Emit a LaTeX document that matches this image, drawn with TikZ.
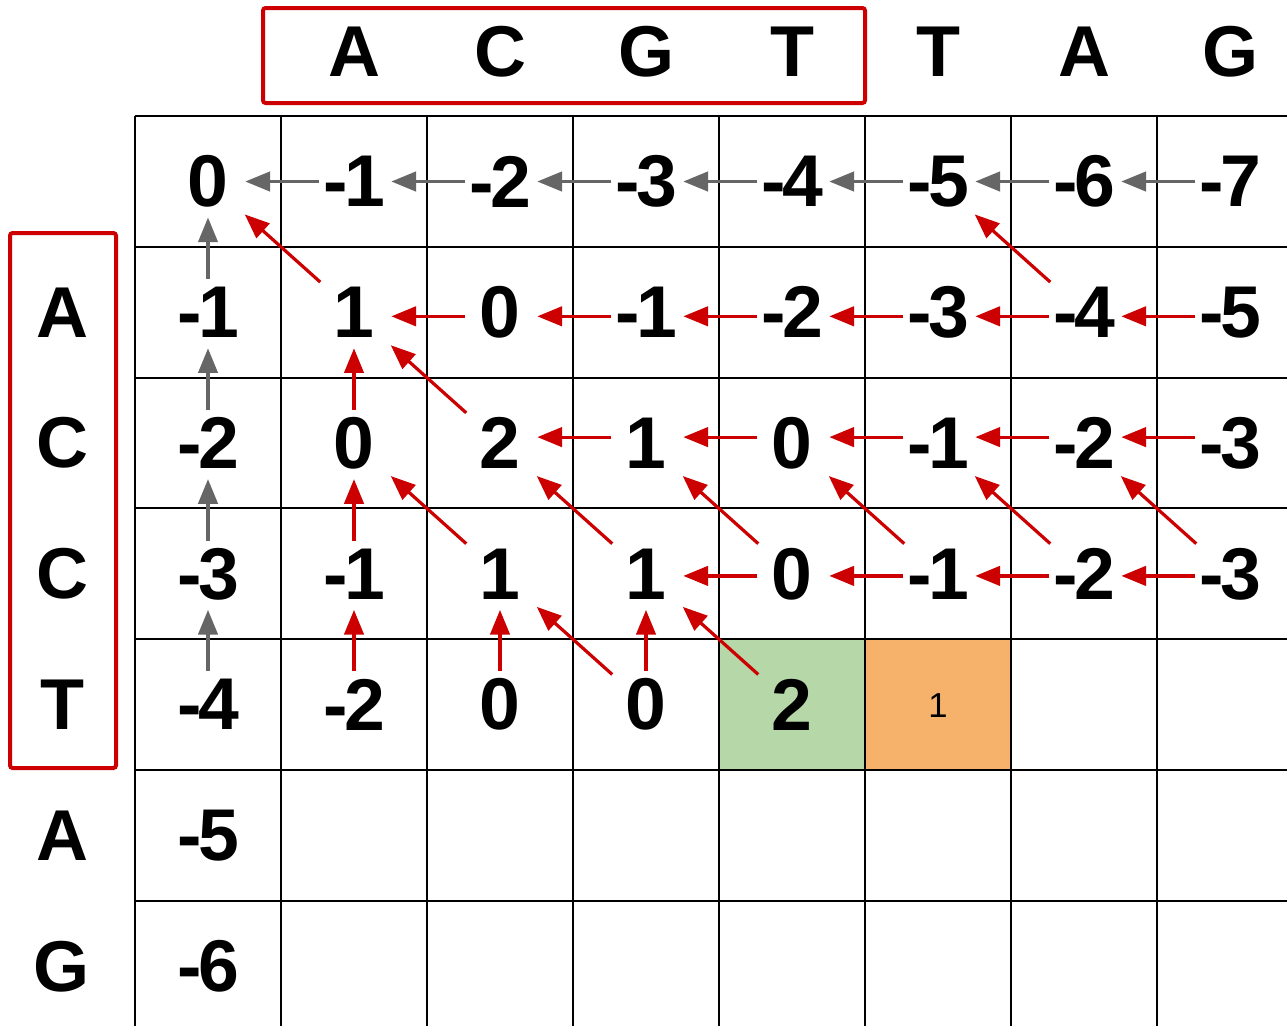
\documentclass[tikz,border=0pt]{standalone}
\usepackage{fontspec}
\setmainfont{Liberation Sans}
\usetikzlibrary{arrows.meta,calc}
\definecolor{rd}{HTML}{CC0000}
\definecolor{gy}{HTML}{666666}
\definecolor{gr}{HTML}{B6D7A8}
\definecolor{og}{HTML}{F6B26B}
\newcommand\negm{-\kern-2.5pt}
\newcommand\cellv[3]{\node[num] (n#1#2) at ({208+146*#2},{181.5+130.8*#1}) {#3};}
\newcommand\myarr[3]{\draw[#1] (n#2.center) -- (n#3.center);}
\newcommand\myarrs[4]{\draw[#1] ($(n#2.center)+(0,#4)$) -- ($(n#3.center)+(0,#4)$);}
\begin{document}
\begin{tikzpicture}[x=0.75pt,y=-0.75pt,
  num/.style={font=\fontsize{55}{60}\selectfont\bfseries, inner sep=0pt},
  ltr/.style={font=\fontsize{54}{60}\selectfont\bfseries, inner sep=0pt},
  arr/.style={line width=2.4pt, -{Triangle[length=18.5pt,width=14.5pt]}},
  rarr/.style={arr, color=rd},
  garr/.style={arr, color=gy},
  hz/.style={shorten <=26pt, shorten >=28pt},
  vt/.style={shorten <=25pt, shorten >=27pt},
  dg/.style={shorten <=34pt, shorten >=37pt},
  box/.style={draw=rd, line width=3pt, rounded corners=2pt},
  grid/.style={line width=1.4pt, black}
]
\useasboundingbox (0,0) rectangle (1287,1026);
\fill[white] (0,0) rectangle (1287,1026);
% coloured cells
\fill[gr] (719,639.2) rectangle (865,770);
\fill[og] (865,639.2) rectangle (1011,770);
% grid
\foreach \k in {0,...,6} \draw[grid] (135,{116+130.8*\k}) -- (1287,{116+130.8*\k});
\foreach \k in {0,...,7} \draw[grid] ({135+146*\k},116) -- ({135+146*\k},1026);
% header letters
\foreach \i/\t in {1/A,2/C,3/G,4/T,5/T,6/A,7/G}
  \node[ltr] (h\i) at ({208+146*\i},52) {\t};
\foreach \i/\t in {1/A,2/C,3/C,4/T,5/A,6/G}
  \node[ltr] (l\i) at (62,{181.5+130.8*\i}) {\t};
% red boxes
\draw[box] (263,8) rectangle (865,103);
\draw[box] (10,233) rectangle (116,768);
% values
\cellv00{0}\cellv01{\negm1}\cellv02{\negm2}\cellv03{\negm3}\cellv04{\negm4}\cellv05{\negm5}\cellv06{\negm6}\cellv07{\negm7}
\cellv10{\negm1}\cellv11{1}\cellv12{0}\cellv13{\negm1}\cellv14{\negm2}\cellv15{\negm3}\cellv16{\negm4}\cellv17{\negm5}
\cellv20{\negm2}\cellv21{0}\cellv22{2}\cellv23{1}\cellv24{0}\cellv25{\negm1}\cellv26{\negm2}\cellv27{\negm3}
\cellv30{\negm3}\cellv31{\negm1}\cellv32{1}\cellv33{1}\cellv34{0}\cellv35{\negm1}\cellv36{\negm2}\cellv37{\negm3}
\cellv40{\negm4}\cellv41{\negm2}\cellv42{0}\cellv43{0}\cellv44{2}
\node[inner sep=0pt, font=\fontsize{26}{30}\selectfont] (n45) at (938,706) {1};
\cellv50{\negm5}
\cellv60{\negm6}
% gray arrows
\myarr{garr,hz}{01}{00}\myarr{garr,hz}{02}{01}\myarr{garr,hz}{03}{02}\myarr{garr,hz}{04}{03}
\myarr{garr,hz}{05}{04}\myarr{garr,hz}{06}{05}\myarr{garr,hz}{07}{06}
\myarr{garr,vt}{10}{00}\myarr{garr,vt}{20}{10}\myarr{garr,vt}{30}{20}\myarr{garr,vt}{40}{30}
% red arrows row 1
\myarr{rarr,dg}{11}{00}
\myarrs{rarr,hz}{12}{11}{4}\myarrs{rarr,hz}{13}{12}{4}\myarrs{rarr,hz}{14}{13}{4}\myarrs{rarr,hz}{15}{14}{4}
\myarrs{rarr,hz}{16}{15}{4}\myarrs{rarr,hz}{17}{16}{4}
\myarr{rarr,dg}{16}{05}
% row 2
\myarr{rarr,vt}{21}{11}\myarr{rarr,dg}{22}{11}
\myarrs{rarr,hz}{23}{22}{-6}\myarrs{rarr,hz}{24}{23}{-6}\myarrs{rarr,hz}{25}{24}{-6}\myarrs{rarr,hz}{26}{25}{-6}\myarrs{rarr,hz}{27}{26}{-6}
% row 3
\myarr{rarr,vt}{31}{21}\myarr{rarr,dg}{32}{21}\myarr{rarr,dg}{33}{22}
\myarr{rarr,dg}{34}{23}\myarrs{rarr,hz}{34}{33}{2}
\myarr{rarr,dg}{35}{24}\myarrs{rarr,hz}{35}{34}{2}
\myarr{rarr,dg}{36}{25}\myarrs{rarr,hz}{36}{35}{2}
\myarr{rarr,dg}{37}{26}\myarrs{rarr,hz}{37}{36}{2}
% row 4
\myarr{rarr,vt}{41}{31}\myarr{rarr,vt}{42}{32}\myarr{rarr,dg}{43}{32}\myarr{rarr,vt}{43}{33}
\myarr{rarr,dg}{44}{33}
\end{tikzpicture}
\end{document}
